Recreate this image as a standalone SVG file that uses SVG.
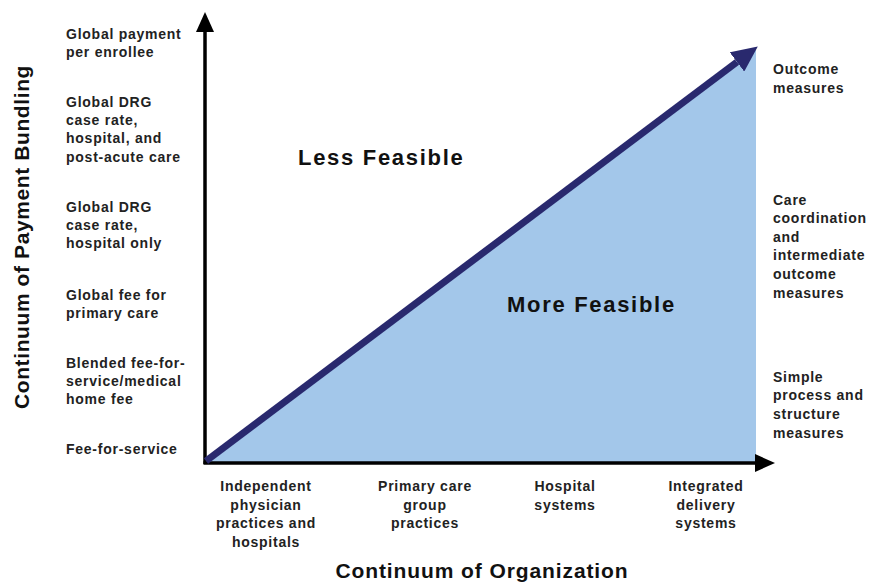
<svg xmlns="http://www.w3.org/2000/svg" width="869" height="582" viewBox="0 0 869 582">
<style>
.lbl{font-family:"Liberation Sans",Arial,sans-serif;font-size:14px;font-weight:bold;fill:#222;letter-spacing:0.75px}
.mid{text-anchor:middle}
.big{font-family:"Liberation Sans",Arial,sans-serif;font-size:22px;font-weight:bold;fill:#111}
.axis{stroke:#000;stroke-width:3.5;fill:none}
</style>
<defs>
<marker id="ah" markerUnits="userSpaceOnUse" markerWidth="20" markerHeight="18" refX="0" refY="9" orient="auto">
<path d="M0,0 L20,9 L0,18 z" fill="#000"/>
</marker>
<marker id="nh" markerUnits="userSpaceOnUse" markerWidth="26" markerHeight="24" refX="0" refY="12" orient="auto">
<path d="M0,0 L26,12 L0,24 z" fill="#29296e"/>
</marker>
</defs>
<rect width="869" height="582" fill="#fff"/>
<polygon id="region" points="205,463 756,47 756,463" fill="#a3c7ea"/>
<g id="connectors">
<line class="axis" x1="205" y1="464" x2="205" y2="32" marker-end="url(#ah)"/>
<line class="axis" x1="203.5" y1="463" x2="755" y2="463" marker-end="url(#ah)"/>
<line x1="206" y1="461" x2="737" y2="62" stroke="#29296e" stroke-width="7" marker-end="url(#nh)"/>
</g>
<g id="y-title"><text class="big" style="font-size:21px;letter-spacing:0.6px" text-anchor="middle" transform="translate(29,237) rotate(-90)">Continuum of Payment Bundling</text></g>
<g id="x-title"><text class="big mid" x="482" y="578" style="font-size:21px;letter-spacing:0.9px">Continuum of Organization</text></g>
<g id="less"><text class="big" x="298" y="165" style="letter-spacing:1.7px">Less Feasible</text></g>
<g id="more"><text class="big" x="507" y="312" style="letter-spacing:1.7px">More Feasible</text></g>
<g id="left-labels" class="lbl">
<text x="66" y="39">Global payment</text>
<text x="66" y="57">per enrollee</text>
<text x="66" y="107">Global DRG</text>
<text x="66" y="125">case rate,</text>
<text x="66" y="143">hospital, and</text>
<text x="66" y="162">post-acute care</text>
<text x="66" y="212">Global DRG</text>
<text x="66" y="230">case rate,</text>
<text x="66" y="248">hospital only</text>
<text x="66" y="300">Global fee for</text>
<text x="66" y="318">primary care</text>
<text x="66" y="368">Blended fee-for-</text>
<text x="66" y="386">service/medical</text>
<text x="66" y="404">home fee</text>
<text x="66" y="454">Fee-for-service</text>
</g>
<g id="bottom-labels" class="lbl mid">
<text x="266" y="491">Independent</text>
<text x="266" y="510">physician</text>
<text x="266" y="528">practices and</text>
<text x="266" y="547">hospitals</text>
<text x="425" y="491">Primary care</text>
<text x="425" y="510">group</text>
<text x="425" y="528">practices</text>
<text x="565" y="491">Hospital</text>
<text x="565" y="510">systems</text>
<text x="706" y="491">Integrated</text>
<text x="706" y="510">delivery</text>
<text x="706" y="528">systems</text>
</g>
<g id="right-labels" class="lbl">
<text x="773" y="74">Outcome</text>
<text x="773" y="93">measures</text>
<text x="773" y="205">Care</text>
<text x="773" y="223">coordination</text>
<text x="773" y="242">and</text>
<text x="773" y="260">intermediate</text>
<text x="773" y="279">outcome</text>
<text x="773" y="298">measures</text>
<text x="773" y="382">Simple</text>
<text x="773" y="400">process and</text>
<text x="773" y="419">structure</text>
<text x="773" y="438">measures</text>
</g>
</svg>
